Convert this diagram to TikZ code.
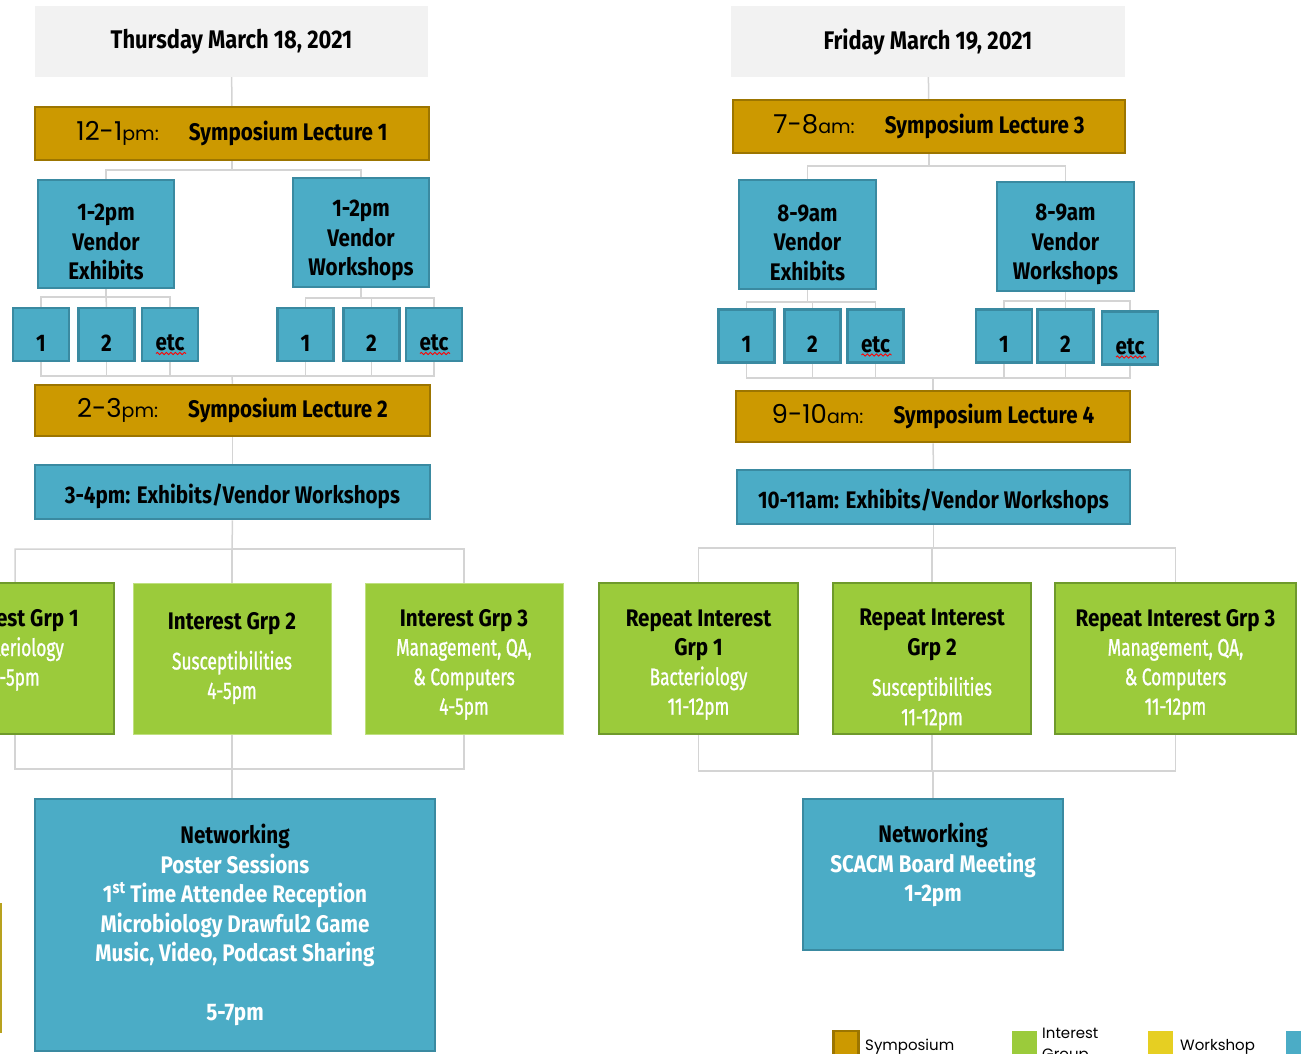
\documentclass[tikz,border=0pt]{standalone}
\usepackage{fontspec}
\usetikzlibrary{positioning,decorations.pathmorphing}

\newfontfamily\twc[FakeStretch=0.86]{Fira Sans}
\newfontfamily\twcr[FakeStretch=0.72,FakeBold=1]{Fira Sans}
\newfontfamily\geo{Poppins}

\definecolor{dayGray}{HTML}{F2F2F2}
\definecolor{lecGold}{HTML}{CC9900}
\definecolor{lecEdge}{HTML}{9C7500}
\definecolor{vendBlue}{HTML}{4BACC6}
\definecolor{vendEdge}{HTML}{3A8AA1}
\definecolor{grpGreen}{HTML}{9BCB3B}
\definecolor{grpEdge}{HTML}{6F9A2C}
\definecolor{grpLight}{HTML}{BFE07F}
\definecolor{wsYellow}{HTML}{E6CF22}
\definecolor{oddEdge}{HTML}{B8A21E}
\definecolor{linkGray}{HTML}{D4D4D4}

% time part of a lecture bar
\newcommand{\lectime}[2]{{\geo\mdseries\fontsize{26}{26}\selectfont #1{\fontsize{19}{19}\selectfont #2}}\hspace{30pt}}
% white lines inside boxes
\newcommand{\wt}[1]{{\color{white}#1}}
\newcommand{\wtr}[1]{{\color{white}\twcr\mdseries #1}}
% pushes text down / up inside a box
\newcommand{\dn}[1]{\rule{0pt}{#1}}
\newcommand{\up}[1]{\rule[-#1]{0pt}{#1}}

\tikzset{
  daybox/.style={fill=dayGray, inner sep=0pt, font=\twc\bfseries\fontsize{25.5}{28}\selectfont},
  lecbox/.style={fill=lecGold, draw=lecEdge, line width=2.5pt, inner sep=0pt,
    font=\twc\bfseries\fontsize{24}{28}\selectfont},
  vendbox/.style={fill=vendBlue, draw=vendEdge, line width=2.5pt, inner sep=0pt, align=center,
    font=\twc\bfseries\fontsize{24}{29.5}\selectfont},
  smallbox/.style={vendbox, minimum width=56, minimum height=53},
  grpbox/.style={fill=grpGreen, draw=grpEdge, line width=2.5pt, inner sep=0pt, align=center,
    minimum width=198, minimum height=151, font=\twc\bfseries\fontsize{24}{29.5}\selectfont},
  link/.style={draw=linkGray, line width=1.5pt},
  squiggle/.style={draw=red, line width=0.9pt, decorate,
    decoration={snake, amplitude=1.1pt, segment length=4.5pt}},
  legsw/.style={minimum width=25, minimum height=28, inner sep=0pt},
  legtxt/.style={inner sep=0pt, font=\geo\fontsize{15}{21}\selectfont},
}

\begin{document}
\begin{tikzpicture}[x=1pt, y=-1pt]
    \useasboundingbox (0,0) rectangle (1301,1053);
    \clip (0,0) rectangle (1301,1053);

    % Thursday
    \node[daybox, minimum width=393, minimum height=71] (thu) at (231.5,41.5) {Thursday March 18, 2021};
    \node[lecbox, minimum width=394, minimum height=53] (lec1) at (232,133.5) {\lectime{12-1}{pm:}Symposium Lecture 1};
    \node[vendbox, minimum width=136, minimum height=108] (ve1) at (106,234) {\dn{33pt}1-2pm\\Vendor\\Exhibits};
    \node[vendbox, minimum width=136, minimum height=109] (vw1) at (361,232.5) {\dn{33pt}1-2pm\\Vendor\\Workshops};
    \node[smallbox] (a1) at (41,334.5) {\dn{33pt}1};
    \node[smallbox] (a2) at (106.5,334.5) {\dn{33pt}2};
    \node[smallbox] (a3) at (170,334.5) {\dn{33pt}etc};
    \node[smallbox] (b1) at (305.5,334.5) {\dn{33pt}1};
    \node[smallbox] (b2) at (371.5,334.5) {\dn{33pt}2};
    \node[smallbox] (b3) at (434,334.5) {\dn{33pt}etc};
    \node[lecbox, minimum width=395, minimum height=51] (lec2) at (232.5,410.5) {\lectime{2-3}{pm:}Symposium Lecture 2};
    \node[vendbox, minimum width=395, minimum height=54] (ex1) at (232.5,492) {\dn{29pt}3-4pm: Exhibits/Vendor Workshops};
    \node[grpbox] (g1) at (15,658.5) {Interest Grp 1\\\wtr{Bacteriology}\\\wtr{4-5pm}\up{22pt}};
    \node[grpbox, draw=grpLight, line width=1pt] (g2) at (232,658.5) {Interest Grp 2\\[10pt]\wtr{Susceptibilities}\\\wtr{4-5pm}};
    \node[grpbox, draw=grpLight, line width=1pt] (g3) at (464,658.5) {\dn{29pt}Interest Grp 3\\\wtr{Management, QA,}\\\wtr{\& Computers}\\\wtr{4-5pm}};
    \node[vendbox, minimum width=400, minimum height=252] (net1) at (235,925) {Networking\\\wt{Poster Sessions}\\\wt{1\textsuperscript{st} Time Attendee Reception}\\\wt{Microbiology Drawful2 Game}\\\wt{Music, Video, Podcast Sharing}\\[29.5pt]\wt{5-7pm}};
    \node[draw=oddEdge, line width=2.5pt, fill=white, minimum width=40, minimum height=128] (odd) at (-19,968) {};

    \coordinate (busA) at (232,170);
    \coordinate (busB) at (106,297);
    \coordinate (busC) at (361,298);
    \coordinate (busD) at (232,376);
    \coordinate (busE) at (232,549);
    \coordinate (busF) at (232,769);

    \draw[link] (thu) -- (lec1);
    \draw[link] (lec1.south) -- (busA) -| (ve1.north);
    \draw[link] (busA) -| (vw1.north);
    \draw[link] (ve1.south) -- (busB) -| (a1.north);
    \draw[link] (busB) -- (a2.north);
    \draw[link] (busB) -| (a3.north);
    \draw[link] (vw1.south) -- (busC) -| (b1.north);
    \draw[link] (busC) -| (b2.north);
    \draw[link] (busC) -| (b3.north);
    \draw[link] (a1.south) |- (busD);
    \draw[link] (a2.south) |- (busD);
    \draw[link] (a3.south) |- (busD);
    \draw[link] (b1.south) |- (busD);
    \draw[link] (b2.south) |- (busD);
    \draw[link] (b3.south) |- (busD);
    \draw[link] (busD) -- (lec2.north);
    \draw[link] (lec2) -- (ex1);
    \draw[link] (ex1.south) -- (busE) -| (g1.north);
    \draw[link] (busE) -- (g2.north);
    \draw[link] (busE) -| (g3.north);
    \draw[link] (g1.south) |- (busF);
    \draw[link] (g2.south) |- (busF);
    \draw[link] (g3.south) |- (busF);
    \draw[link] (busF) -- (busF |- net1.north);

    % Friday
    \node[daybox, minimum width=394, minimum height=71] (fri) at (928,41.5) {Friday March 19, 2021};
    \node[lecbox, minimum width=392, minimum height=53] (lec3) at (929,126.5) {\lectime{7-8}{am:}Symposium Lecture 3};
    \node[vendbox, minimum width=137, minimum height=109] (ve2) at (807.5,234.5) {\dn{33pt}8-9am\\Vendor\\Exhibits};
    \node[vendbox, minimum width=137, minimum height=109] (vw2) at (1065.5,236.5) {\dn{33pt}8-9am\\Vendor\\Workshops};
    \node[smallbox] (c1) at (746.5,336) {\dn{33pt}1};
    \node[smallbox] (c2) at (812.5,336) {\dn{33pt}2};
    \node[smallbox] (c3) at (875.5,336) {\dn{33pt}etc};
    \node[smallbox] (d1) at (1004,336) {\dn{33pt}1};
    \node[smallbox] (d2) at (1065.5,336) {\dn{33pt}2};
    \node[smallbox] (d3) at (1130,338) {\dn{33pt}etc};
    \node[lecbox, minimum width=394, minimum height=51] (lec4) at (933,416.5) {\lectime{9-10}{am:}Symposium Lecture 4};
    \node[vendbox, minimum width=393, minimum height=54] (ex2) at (933.5,497) {\dn{29pt}10-11am: Exhibits/Vendor Workshops};
    \node[grpbox, minimum width=199] (r1) at (698.5,658.5) {\dn{29pt}Repeat Interest\\Grp 1\\\wtr{Bacteriology}\\\wtr{11-12pm}};
    \node[grpbox] (r2) at (932,658.5) {\dn{39pt}Repeat Interest\\Grp 2\\[11pt]\wtr{Susceptibilities}\\\wtr{11-12pm}};
    \node[grpbox, minimum width=241] (r3) at (1175.5,658.5) {\dn{29pt}Repeat Interest Grp 3\\\wtr{Management, QA,}\\\wtr{\& Computers}\\\wtr{11-12pm}};
    \node[vendbox, minimum width=260, minimum height=151] (net2) at (933,874.5) {Networking\\\wt{SCACM Board Meeting}\\\wt{1-2pm}\up{24pt}};

    \coordinate (busG) at (929,166);
    \coordinate (busH) at (807.5,302);
    \coordinate (busI) at (1065.5,301);
    \coordinate (busJ) at (933,378);
    \coordinate (busK) at (933.5,548);
    \coordinate (busL) at (933,771);

    \draw[link] (fri) -- (lec3);
    \draw[link] (lec3.south) -- (busG) -| (ve2.north);
    \draw[link] (busG) -| (vw2.north);
    \draw[link] (ve2.south) -- (busH) -| (c1.north);
    \draw[link] (busH) -| (c2.north);
    \draw[link] (busH) -| (c3.north);
    \draw[link] (vw2.south) -- (busI) -| (d1.north);
    \draw[link] (busI) -- (d2.north);
    \draw[link] (busI) -| (d3.north);
    \draw[link] (c1.south) |- (busJ);
    \draw[link] (c2.south) |- (busJ);
    \draw[link] (c3.south) |- (busJ);
    \draw[link] (d1.south) |- (busJ);
    \draw[link] (d2.south) |- (busJ);
    \draw[link] (d3.south) |- (busJ);
    \draw[link] (busJ) -- (lec4.north);
    \draw[link] (lec4) -- (ex2);
    \draw[link] (ex2.south) -- (busK) -| (r1.north);
    \draw[link] (busK) -| (r2.north);
    \draw[link] (busK) -| (r3.north);
    \draw[link] (r1.south) |- (busL);
    \draw[link] (r2.south) |- (busL);
    \draw[link] (r3.south) |- (busL);
    \draw[link] (busL) -- (net2.north);

    % spell-check marks under etc
    \draw[squiggle] ([shift={(-14,19)}]a3.center) -- ([shift={(16,19)}]a3.center);
    \draw[squiggle] ([shift={(-14,19)}]b3.center) -- ([shift={(16,19)}]b3.center);
    \draw[squiggle] ([shift={(-14,19)}]c3.center) -- ([shift={(16,19)}]c3.center);
    \draw[squiggle] ([shift={(-14,19)}]d3.center) -- ([shift={(16,19)}]d3.center);

    % legend
    \node[legsw, fill=lecGold, draw=lecEdge, line width=2.5pt] (kSym) at (846,1045) {};
    \node[legtxt, anchor=base west] (tSym) at (865,1050) {Symposium};
    \node[legsw, fill=grpGreen] (kGrp) at (1024,1045) {};
    \node[legtxt, anchor=north west, align=left] (tGrp) at (1042,1028) {Interest\\Group};
    \node[legsw, fill=wsYellow] (kWs) at (1160,1045) {};
    \node[legtxt, anchor=base west] (tWs) at (1180,1050) {Workshop};
    \node[legsw, fill=vendBlue] (kNet) at (1298,1045) {};
\end{tikzpicture}
\end{document}
